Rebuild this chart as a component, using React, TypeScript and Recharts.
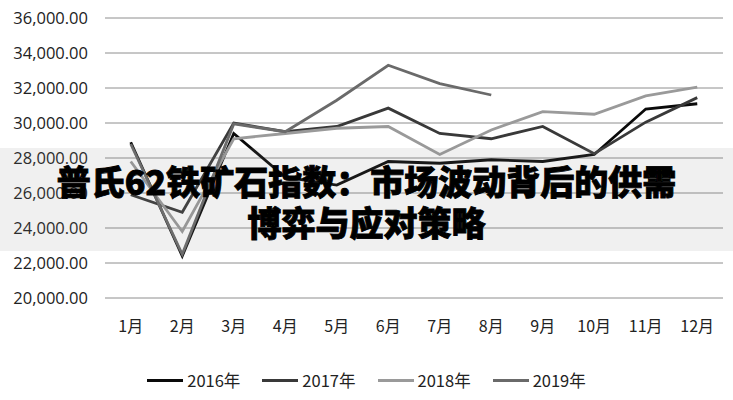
import { LineChart, Line, XAxis, YAxis, CartesianGrid } from "recharts";

const months = ["1月", "2月", "3月", "4月", "5月", "6月", "7月", "8月", "9月", "10月", "11月", "12月"];

const y2016 = [28900, 22400, 29400, 26900, 26450, 27800, 27700, 27900, 27800, 28200, 30800, 31100];
const y2017 = [25900, 24900, 30000, 29500, 29800, 30850, 29400, 29100, 29800, 28250, 30050, 31450];
const y2018 = [27800, 23800, 29100, 29400, 29700, 29800, 28200, 29600, 30650, 30500, 31550, 32050];
const y2019 = [28800, 22500, 29950, 29500, 31300, 33300, 32250, 31600];

const yTicks = [20000, 22000, 24000, 26000, 28000, 30000, 32000, 34000, 36000];

const SERIES = [
  { key: "2016年", values: y2016, color: "#0a0a0a" },
  { key: "2017年", values: y2017, color: "#393939" },
  { key: "2018年", values: y2018, color: "#9a9a9a" },
  { key: "2019年", values: y2019, color: "#6a6a6a" },
];

const data = months.map((m, i) => {
  const row: Record<string, string | number | null> = { month: m };
  SERIES.forEach((s) => {
    row[s.key] = i < s.values.length ? s.values[i] : null;
  });
  return row;
});

const CJK = "'Noto Sans CJK SC', 'Noto Sans', sans-serif";

export default function App() {
  return (
    <div style={{ position: "absolute", left: 0, top: 0, width: 733, height: 400, background: "#fff" }}>
      <LineChart width={733} height={400} data={data} margin={{ top: 18, right: 10, left: 0, bottom: 72 }}>
        <CartesianGrid vertical={false} stroke="#8e8e8e" strokeWidth={1} />
        <XAxis
          dataKey="month"
          axisLine={false}
          tickLine={false}
          tickMargin={17}
          height={30}
          padding={{ left: 25.75, right: 25.75 }}
          interval={0}
          tick={{ fontSize: 16, fill: "#222", fontFamily: CJK }}
        />
        <YAxis
          width={105}
          domain={[20000, 36000]}
          ticks={yTicks}
          axisLine={false}
          tickLine={false}
          tickMargin={11}
          tickFormatter={(v) =>
            Number(v).toLocaleString("en-US", { minimumFractionDigits: 2, maximumFractionDigits: 2 })
          }
          tick={{ fontSize: 16.5, fill: "#222", fontFamily: "'Open Sans', sans-serif" }}
        />
        {SERIES.map((s) => (
          <Line
            key={s.key}
            type="linear"
            dataKey={s.key}
            stroke={s.color}
            strokeWidth={2.8}
            dot={false}
            isAnimationActive={false}
          />
        ))}
      </LineChart>

      {/* legend */}
      <div
        style={{
          position: "absolute",
          left: 0,
          top: 368,
          width: 733,
          display: "flex",
          justifyContent: "center",
          gap: 22,
          fontFamily: CJK,
          fontSize: 16.5,
          color: "#222",
          lineHeight: "24px",
        }}
      >
        {SERIES.map((s) => (
          <span key={s.key} style={{ display: "flex", alignItems: "center", gap: 4 }}>
            <span style={{ width: 36, height: 3, background: s.color, display: "inline-block" }} />
            {s.key}
          </span>
        ))}
      </div>

      {/* title band */}
      <div
        style={{
          position: "absolute",
          left: 0,
          top: 148,
          width: 733,
          height: 103,
          background: "rgba(128,128,128,0.12)",
        }}
      />
      <div
        style={{
          position: "absolute",
          left: 0,
          top: 160,
          width: 733,
          textAlign: "center",
          fontFamily: CJK,
          fontWeight: 900,
          fontSize: 34,
          lineHeight: "41px",
          color: "#000",
          WebkitTextStroke: "0.9px #000",
        }}
      >
        <div>普氏62铁矿石指数：市场波动背后的供需</div>
        <div>博弈与应对策略</div>
      </div>
    </div>
  );
}
